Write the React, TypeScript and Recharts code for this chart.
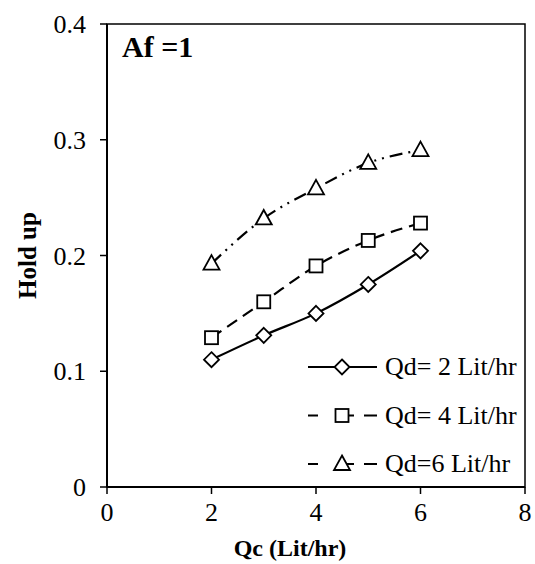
import { LineChart, Line, XAxis, YAxis, Legend, Label, ReferenceArea } from "recharts";

const qc = [2, 3, 4, 5, 6];
const qd2 = [0.11, 0.131, 0.15, 0.175, 0.204];
const qd4 = [0.129, 0.16, 0.191, 0.213, 0.228];
const qd6 = [0.193, 0.232, 0.258, 0.28, 0.291];
const xTicks = [0, 2, 4, 6, 8];
const yTicks = [0, 0.1, 0.2, 0.3, 0.4];
const seriesNames = ["Qd= 2 Lit/hr", "Qd= 4 Lit/hr", "Qd=6 Lit/hr"];

const data = qc.map((x, i) => ({ qc: x, qd2: qd2[i], qd4: qd4[i], qd6: qd6[i] }));

const FONT = '"Liberation Serif", "Times New Roman", serif';

type Kind = "diamond" | "square" | "triangle";

const series: { key: string; name: string; kind: Kind; dash?: string }[] = [
  { key: "qd2", name: seriesNames[0], kind: "diamond" },
  { key: "qd4", name: seriesNames[1], kind: "square", dash: "12 7" },
  { key: "qd6", name: seriesNames[2], kind: "triangle", dash: "13 6 2 6 2 6" },
];

function Marker({ kind, cx, cy }: { kind: Kind; cx: number; cy: number }) {
  const st = { fill: "#fff", stroke: "#000", strokeWidth: 1.8 };
  if (kind === "diamond")
    return <path d={`M${cx},${cy - 7.5}L${cx + 7.5},${cy}L${cx},${cy + 7.5}L${cx - 7.5},${cy}Z`} {...st} />;
  if (kind === "square") return <rect x={cx - 6.5} y={cy - 6.5} width={13} height={13} {...st} />;
  return <path d={`M${cx},${cy - 8.5}L${cx + 8},${cy + 6}L${cx - 8},${cy + 6}Z`} {...st} />;
}

function LegendBox() {
  return (
    <svg width={230} height={150} style={{ display: "block" }}>
      {series.map((s, i) => {
        const y = 15 + i * 48.5;
        return (
          <g key={s.key}>
            <line x1={3} x2={72} y1={y} y2={y} stroke="#000" strokeWidth={2.2} strokeDasharray={s.kind === "diamond" ? undefined : "10 26 10"} />
            <Marker kind={s.kind} cx={37} cy={y} />
            <text x={80} y={y + 8} fontFamily={FONT} fontSize={26} fill="#000">
              {s.name}
            </text>
          </g>
        );
      })}
    </svg>
  );
}

export default function App() {
  const tickStyle = { fontFamily: FONT, fontSize: 26, fill: "#000" };
  return (
    <div style={{ position: "absolute", left: 0, top: 0, width: 535, height: 564, background: "#fff" }}>
      <LineChart width={535} height={564} data={data} margin={{ top: 24, right: 10, bottom: 0, left: 0 }}>
        <ReferenceArea x1={0} x2={8} y1={0} y2={0.4} fill="none" stroke="#000" strokeWidth={1.5} ifOverflow="visible" />
        <XAxis
          dataKey="qc"
          type="number"
          domain={[0, 8]}
          ticks={xTicks}
          height={77}
          tickSize={7}
          tickMargin={9}
          tick={tickStyle}
          stroke="#000"
          strokeWidth={2}
          tickLine={{ stroke: "#000", strokeWidth: 1.5 }}
        >
          <Label
            content={({ viewBox }: any) => (
              <text
                x={viewBox.x + viewBox.width / 2 - 26}
                y={556}
                textAnchor="middle"
                fontFamily={FONT}
                fontSize={24}
                fontWeight="bold"
                fill="#000"
              >
                Qc (Lit/hr)
              </text>
            )}
          />
        </XAxis>
        <YAxis
          type="number"
          domain={[0, 0.4]}
          ticks={yTicks}
          width={107}
          tickSize={7}
          tickMargin={14}
          tick={tickStyle}
          tickFormatter={(v: number) => (v === 0 ? "0" : v.toFixed(1))}
          stroke="#000"
          strokeWidth={2}
          tickLine={{ stroke: "#000", strokeWidth: 1.5 }}
        >
          <Label
            content={({ viewBox }: any) => {
              const cy = viewBox.y + viewBox.height / 2;
              return (
                <text
                  x={36}
                  y={cy}
                  transform={`rotate(-90 36 ${cy})`}
                  textAnchor="middle"
                  fontFamily={FONT}
                  fontSize={25}
                  fontWeight="bold"
                  fill="#000"
                >
                  Hold up
                </text>
              );
            }}
          />
        </YAxis>
        {series.map((s) => (
          <Line
            key={s.key}
            dataKey={s.key}
            name={s.name}
            type="monotone"
            stroke="#000"
            strokeWidth={2.2}
            strokeDasharray={s.dash}
            isAnimationActive={false}
            dot={(p: any) => (
              <g key={`${s.key}-${p.index}`}>
                <Marker kind={s.kind} cx={p.cx} cy={p.cy} />
              </g>
            )}
            activeDot={false}
          />
        ))}
        <Legend
          layout="vertical"
          align="center"
          verticalAlign="middle"
          content={() => <LegendBox />}
          wrapperStyle={{ position: "absolute", left: 305, top: 352, width: 230, height: 150 }}
        />
      </LineChart>
      <div
        style={{
          position: "absolute",
          left: 122,
          top: 31,
          fontFamily: FONT,
          fontSize: 30,
          fontWeight: "bold",
          lineHeight: "32px",
        }}
      >
        Af =1
      </div>
    </div>
  );
}
